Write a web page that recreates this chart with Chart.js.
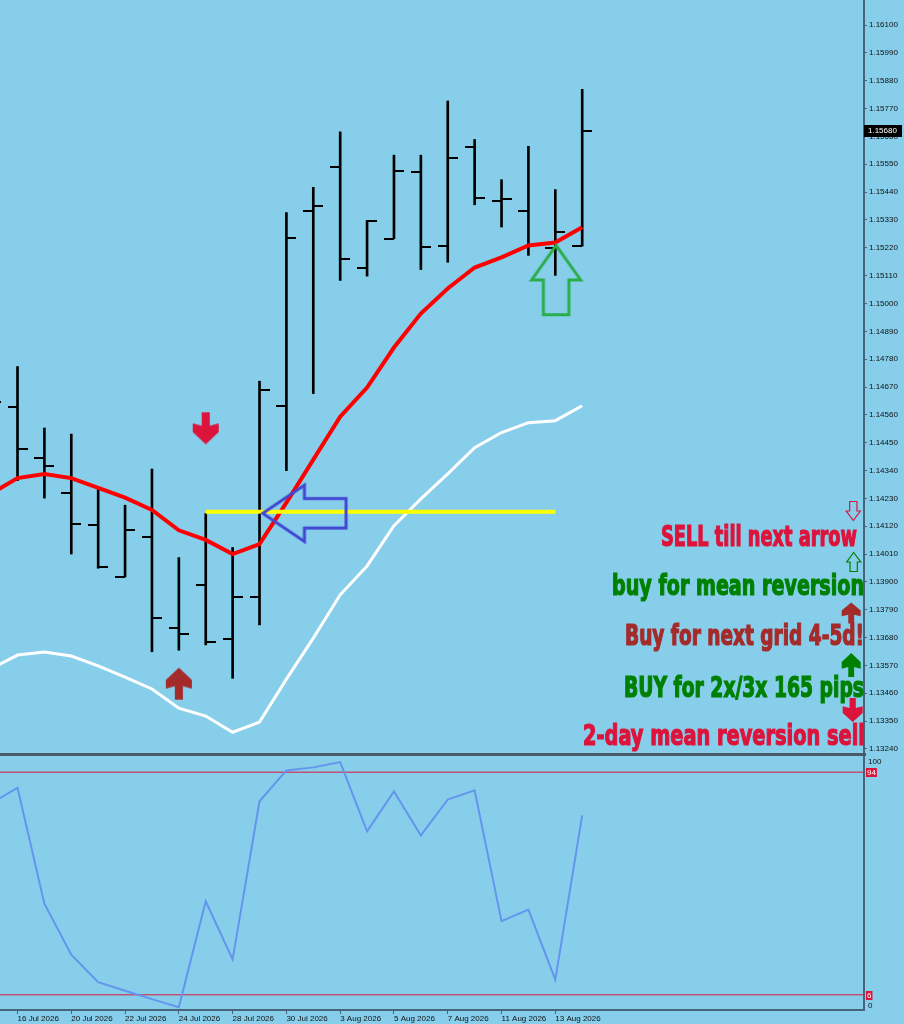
<!DOCTYPE html>
<html>
<head>
<meta charset="utf-8">
<script src="https://cdn.jsdelivr.net/npm/chart.js@4.4.1/dist/chart.umd.min.js"></script>
<style>
  html, body { margin: 0; padding: 0; background: #87CEEB; overflow: hidden; }
  #wrap { position: relative; width: 904px; height: 1024px; }
  #topBox { position: absolute; left: 0; top: 0; width: 904px; height: 753px; }
  #sep { position: absolute; left: 0; top: 753px; width: 866px; height: 3px; background: #4a5a66; }
  #botBox { position: absolute; left: 0; top: 756px; width: 904px; height: 268px; }
</style>
</head>
<body>
<div id="wrap">
  <div id="topBox"><canvas id="priceChart"></canvas></div>
  <div id="sep"></div>
  <div id="botBox"><canvas id="oscChart"></canvas></div>
</div>
<script>
// dados das barras (EURUSD diário)
const dates = ['15 Jul 2026','16 Jul 2026','17 Jul 2026','20 Jul 2026','21 Jul 2026','22 Jul 2026','23 Jul 2026','24 Jul 2026',
  '27 Jul 2026','28 Jul 2026','29 Jul 2026','30 Jul 2026','31 Jul 2026','3 Aug 2026','4 Aug 2026','5 Aug 2026',
  '6 Aug 2026','7 Aug 2026','10 Aug 2026','11 Aug 2026','12 Aug 2026','13 Aug 2026','14 Aug 2026'];
const dateTickIdx = [1, 3, 5, 7, 9, 11, 13, 15, 17, 19, 21];

const opens  = [1.14620,1.14590,1.14389,1.14252,1.14124,1.13920,1.14079,1.13719,1.13888,1.13673,1.13842,1.14594,
  1.15364,1.15539,1.15140,1.15256,1.15518,1.15227,1.15618,1.15405,1.15364,1.15220,1.15227];
const highs  = [1.14700,1.14751,1.14508,1.14484,1.14273,1.14203,1.14346,1.13996,1.14170,1.14036,1.14693,1.15359,
  1.15459,1.15678,1.15328,1.15586,1.15586,1.15800,1.15648,1.15489,1.15621,1.15450,1.15846];
const lows   = [1.14420,1.14300,1.14231,1.14010,1.13954,1.13920,1.13624,1.13630,1.13651,1.13519,1.13730,1.14339,
  1.14644,1.15091,1.15108,1.15256,1.15134,1.15163,1.15390,1.15302,1.15190,1.15111,1.15227];
const closes = [1.14612,1.14426,1.14359,1.14127,1.13957,1.14104,1.13759,1.13693,1.13663,1.13842,1.14658,1.15257,
  1.15385,1.15177,1.15326,1.15523,1.15223,1.15573,1.15417,1.15413,1.15233,1.15281,1.15680];

// médias (vermelha e branca)
const maRed = [1.14248,1.14310,1.14326,1.14310,1.14271,1.14233,1.14184,1.14104,1.14066,1.14010,1.14049,1.14213,
  1.14383,1.14553,1.14668,1.14826,1.14960,1.15059,1.15142,1.15182,1.15229,1.15241,1.15301];
const maWhite = [1.13556,1.13611,1.13623,1.13607,1.13568,1.13524,1.13477,1.13401,1.13370,1.13306,1.13346,1.13516,
  1.13678,1.13849,1.13963,1.14122,1.14228,1.14327,1.14430,1.14490,1.14529,1.14537,1.14596];

// oscilador da janela de baixo
const oscValues = [81.6,87.8,42.0,21.9,11.0,7.6,4.3,1.1,43.0,20.0,82.5,94.7,95.9,98.0,70.6,86.4,69.0,83.2,86.8,35.1,39.7,12.0,76.9];
const oscLevels = [94, 6];

const priceTicks = [1.13240,1.13350,1.13460,1.13570,1.13680,1.13790,1.13900,1.14010,1.14120,1.14230,1.14340,1.14450,
  1.14560,1.14670,1.14780,1.14890,1.15000,1.15110,1.15220,1.15330,1.15440,1.15550,1.15660,1.15770,1.15880,1.15990,1.16100];

// objetos desenhados no gráfico
const sellArrows  = [{ x: 8, y: 1.14507 }];
const buyArrows   = [{ x: 7, y: 1.13498 }];
const blueArrows  = [{ x: 11.67, y: 1.14171 }];
const greenArrows = [{ x: 21.03, y: 1.15093 }];
const yellowLine  = [{ x: 8, y: 1.14177 }, { x: 21, y: 1.14177 }];

const notes = ['SELL till next arrow', 'buy for mean reversion', 'Buy for next grid 4-5d!', 'BUY for 2x/3x 165 pips', '2-day mean reversion sell'];

// faixa visível
const XMIN = 0.349, XMAX = 32.48;
const YMIN = 1.13224, YMAX = 1.16199;

const AXIS = '#46647a';
const CRIMSON = '#DC143C', GREEN = '#008000', BROWN = '#A52A2A';
const TXT_FONT = '"Liberation Sans", Arial, sans-serif';

// layout das notas (pixels, ancoradas no canto direito)
const noteLayout = [
  { color: CRIMSON, left: 661, right: 857, base: 546 },
  { color: GREEN,   left: 612, right: 864, base: 595 },
  { color: BROWN,   left: 625, right: 864, base: 645 },
  { color: GREEN,   left: 624, right: 864, base: 697 },
  { color: CRIMSON, left: 583, right: 865, base: 745 }
];
const noteArrows = [
  { kind: 'hollow', dir: 'down', color: CRIMSON, cx: 853.3, cy: 511, w: 14, h: 19, lw: 1.2 },
  { kind: 'hollow', dir: 'up',   color: GREEN,   cx: 853.7, cy: 562, w: 14, h: 19, lw: 1.2 },
  { kind: 'solid',  dir: 'up',   color: BROWN,   cx: 851.2, cy: 613, w: 19, h: 21 },
  { kind: 'solid',  dir: 'up',   color: GREEN,   cx: 851.2, cy: 665, w: 19, h: 24 },
  { kind: 'solid',  dir: 'down', color: CRIMSON, cx: 852.7, cy: 710, w: 20, h: 24 }
];

// contorno das setas (apontando para cima, centro em 0,0)
function arrowPoints(kind, w, h) {
  if (kind === 'solid') {
    const sw = w * 0.155, t = -h / 2;
    return [[0, t], [w / 2, t + 0.38 * h], [w / 2, t + 0.66 * h], [sw, t + 0.58 * h], [sw, h / 2],
      [-sw, h / 2], [-sw, t + 0.58 * h], [-w / 2, t + 0.66 * h], [-w / 2, t + 0.38 * h]];
  }
  const bw = w * 0.26;
  return [[0, -h / 2], [w / 2, 0], [bw, 0], [bw, h / 2], [-bw, h / 2], [-bw, 0], [-w / 2, 0]];
}

function drawArrow(ctx, a) {
  let p = arrowPoints(a.kind, a.w, a.h);
  if (a.dir === 'down') p = p.map(q => [q[0], -q[1]]);
  if (a.dir === 'left') p = p.map(q => [q[1], q[0]]);
  ctx.save();
  ctx.translate(a.cx, a.cy);
  ctx.beginPath();
  p.forEach((q, i) => i ? ctx.lineTo(q[0], q[1]) : ctx.moveTo(q[0], q[1]));
  ctx.closePath();
  if (a.kind === 'solid') {
    ctx.fillStyle = a.color;
    ctx.fill();
  } else {
    ctx.lineJoin = 'miter';
    ctx.lineWidth = a.lw || 3;
    ctx.strokeStyle = a.color;
    ctx.stroke();
  }
  ctx.restore();
}

// imagem usada como pointStyle
function markerImage(a) {
  const c = document.createElement('canvas');
  const span = a.dir === 'left' ? [a.h, a.w] : [a.w, a.h];
  const pad = 4;
  c.width = Math.ceil(span[0] + pad * 2);
  c.height = Math.ceil(span[1] + pad * 2);
  drawArrow(c.getContext('2d'), Object.assign({}, a, { cx: c.width / 2, cy: c.height / 2 }));
  return c;
}

function tickImage(side) {
  const c = document.createElement('canvas');
  c.width = 20; c.height = 2;
  const g = c.getContext('2d');
  g.fillStyle = '#000';
  g.fillRect(side === 'open' ? 0 : 10, 0, 10, 2);
  return c;
}

function drawFitText(ctx, text, color, left, right, base) {
  ctx.save();
  ctx.font = 'bold 28px "Liberation Sans Narrow", "DejaVu Sans Condensed", "Liberation Sans", sans-serif';
  const w = ctx.measureText(text).width;
  ctx.translate(left, base);
  ctx.scale((right - left) / w, 1);
  ctx.textAlign = 'left';
  ctx.textBaseline = 'alphabetic';
  ctx.fillStyle = color;
  ctx.strokeStyle = color;
  ctx.lineWidth = 1.2;
  ctx.fillText(text, 0, 0);
  ctx.strokeText(text, 0, 0);
  ctx.restore();
}

const sellImg  = markerImage({ kind: 'solid', dir: 'down', color: CRIMSON, w: 26, h: 32 });
const buyImg   = markerImage({ kind: 'solid', dir: 'up', color: BROWN, w: 26, h: 32 });
const blueImg  = markerImage({ kind: 'hollow', dir: 'left', color: '#4146D2', w: 56.4, h: 83.3, lw: 3 });
const greenImg = markerImage({ kind: 'hollow', dir: 'up', color: '#2AAE4A', w: 49, h: 69.3, lw: 3 });

const pts = arr => arr.map((v, i) => ({ x: i, y: v }));

// sem folga extra para os rótulos das pontas
const noPad = s => { s.paddingTop = 0; s.paddingBottom = 0; s.paddingLeft = 0; s.paddingRight = 0; };

const overlayPlugin = {
  id: 'mt4Overlay',
  afterDraw(chart) {
    const ctx = chart.ctx;
    const area = chart.chartArea;
    ctx.save();
    ctx.beginPath();
    ctx.rect(0, 0, area.right, chart.height);
    ctx.clip();
    notes.forEach((t, i) => {
      const l = noteLayout[i];
      drawFitText(ctx, t, l.color, l.left, l.right, l.base);
    });
    noteArrows.forEach(a => drawArrow(ctx, a));
    ctx.restore();

    // preço atual
    const last = closes[closes.length - 1];
    const py = chart.scales.y.getPixelForValue(last);
    ctx.save();
    ctx.fillStyle = '#000';
    ctx.fillRect(area.right, Math.round(py) - 6, 38, 12);
    ctx.fillStyle = '#fff';
    ctx.font = '8px ' + TXT_FONT;
    ctx.textBaseline = 'middle';
    ctx.textAlign = 'left';
    ctx.fillText(last.toFixed(5), area.right + 4, Math.round(py));
    ctx.restore();
  }
};

new Chart(document.getElementById('priceChart'), {
  type: 'line',
  data: {
    datasets: [
      { type: 'scatter', data: sellArrows, pointStyle: sellImg, pointRadius: 20 },
      { type: 'scatter', data: buyArrows, pointStyle: buyImg, pointRadius: 20 },
      { type: 'scatter', data: blueArrows, pointStyle: blueImg, pointRadius: 50 },
      { type: 'scatter', data: greenArrows, pointStyle: greenImg, pointRadius: 50 },
      { data: yellowLine, borderColor: '#FFFF00', borderWidth: 4, pointRadius: 0 },
      { data: pts(maRed), borderColor: '#FF0000', borderWidth: 4, pointRadius: 0, tension: 0 },
      { data: pts(maWhite), borderColor: '#FFFFFF', borderWidth: 3, pointRadius: 0, tension: 0 },
      { type: 'scatter', data: pts(opens), pointStyle: tickImage('open'), pointRadius: 12 },
      { type: 'scatter', data: pts(closes), pointStyle: tickImage('close'), pointRadius: 12 },
      { type: 'bar', data: dates.map((d, i) => ({ x: i, y: [lows[i], highs[i]] })),
        backgroundColor: '#000', borderWidth: 0, barThickness: 2 }
    ]
  },
  options: {
    animation: false,
    responsive: true,
    maintainAspectRatio: false,
    events: [],
    layout: { padding: 0, autoPadding: false },
    plugins: { legend: { display: false }, tooltip: { enabled: false } },
    scales: {
      x: { type: 'linear', min: XMIN, max: XMAX, offset: false, grid: { offset: false }, display: false },
      y: {
        type: 'linear', position: 'right', min: YMIN, max: YMAX, beginAtZero: false,
        afterBuildTicks: s => { s.ticks = priceTicks.map(v => ({ value: v })); },
        afterFit: s => { s.width = 40; noPad(s); },
        grid: { drawOnChartArea: false, tickLength: 3, color: AXIS },
        border: { color: AXIS, width: 2 },
        ticks: { autoSkip: false, padding: 2, color: '#111', font: { family: TXT_FONT, size: 8 },
          callback: v => Number(v).toFixed(5) }
      }
    }
  },
  plugins: [overlayPlugin]
});

const oscPlugin = {
  id: 'oscLabels',
  afterDraw(chart) {
    const ctx = chart.ctx;
    const y = chart.scales.y;
    const r = chart.chartArea.right;
    ctx.save();
    ctx.font = '8px ' + TXT_FONT;
    ctx.textBaseline = 'middle';
    ctx.textAlign = 'left';
    ctx.fillStyle = '#111';
    ctx.fillText('100', r + 4, y.getPixelForValue(100) + 5);
    ctx.fillText('0', r + 4, y.getPixelForValue(0) - 4);
    oscLevels.forEach(v => {
      const py = Math.round(y.getPixelForValue(v));
      const t = String(v);
      const w = ctx.measureText(t).width + 2;
      ctx.fillStyle = CRIMSON;
      ctx.fillRect(r + 2, py - 4, w, 9);
      ctx.fillStyle = '#fff';
      ctx.fillText(t, r + 3, py + 0.5);
    });
    ctx.restore();
  }
};

new Chart(document.getElementById('oscChart'), {
  type: 'line',
  data: {
    datasets: [
      { data: pts(oscValues), borderColor: '#6495ED', borderWidth: 2, pointRadius: 0, tension: 0 },
      ...oscLevels.map(v => ({ data: [{ x: XMIN, y: v }, { x: XMAX, y: v }], borderColor: CRIMSON, borderWidth: 1, pointRadius: 0 }))
    ]
  },
  options: {
    animation: false,
    responsive: true,
    maintainAspectRatio: false,
    events: [],
    layout: { padding: { top: 1 }, autoPadding: false },
    plugins: { legend: { display: false }, tooltip: { enabled: false } },
    scales: {
      x: {
        type: 'linear', min: XMIN, max: XMAX, position: 'bottom',
        afterBuildTicks: s => { s.ticks = dateTickIdx.map(v => ({ value: v })); },
        afterFit: s => { s.height = 14; noPad(s); },
        grid: { drawOnChartArea: false, tickLength: 4, color: AXIS },
        border: { color: AXIS, width: 2 },
        ticks: { autoSkip: false, maxRotation: 0, align: 'start', padding: 0, color: '#111',
          font: { family: TXT_FONT, size: 8 }, callback: v => dates[v] }
      },
      y: {
        type: 'linear', position: 'right', min: 0, max: 100,
        afterFit: s => { s.width = 40; noPad(s); },
        grid: { drawOnChartArea: false, drawTicks: false, color: AXIS },
        border: { color: AXIS, width: 2 },
        ticks: { display: false }
      }
    }
  },
  plugins: [oscPlugin]
});
</script>
</body>
</html>
